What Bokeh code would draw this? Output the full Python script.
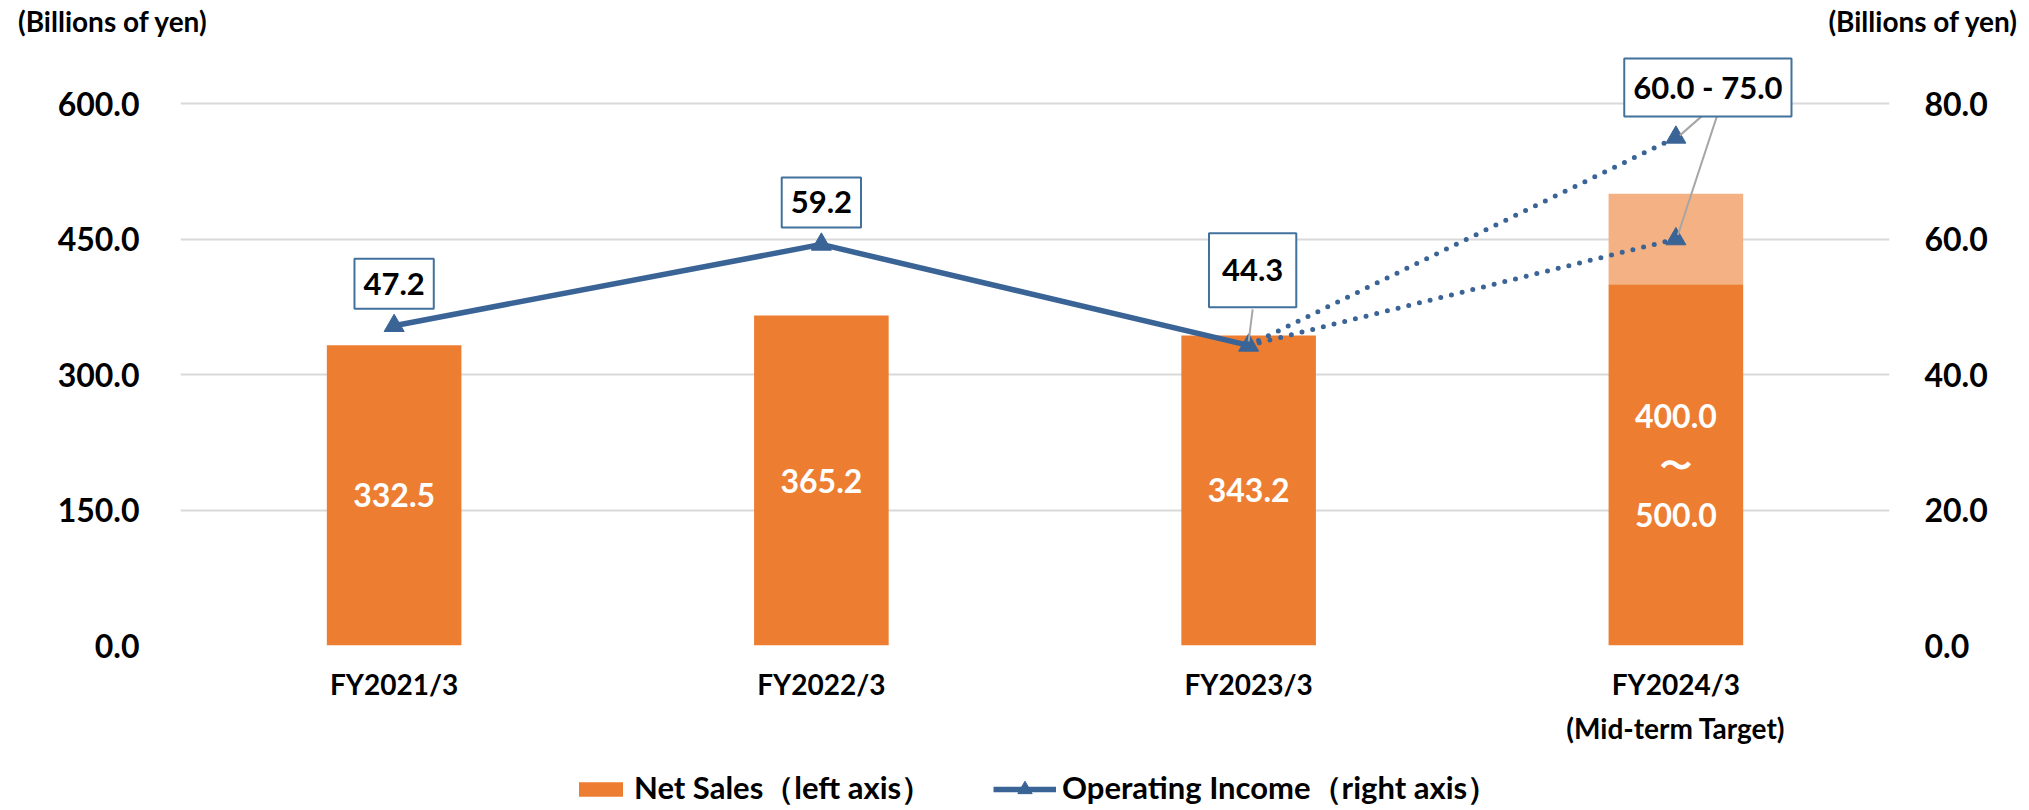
from bokeh.plotting import figure
from bokeh.layouts import column
from bokeh.models import (FactorRange, Range1d, LinearAxis, FixedTicker, NumeralTickFormatter,
                          Label, Legend, LegendItem, ColumnDataSource, Div)
from bokeh.core.properties import value
from bokeh.embed import file_html
from bokeh.resources import INLINE

# ---------------- data ----------------
categories = ["FY2021/3", "FY2022/3", "FY2023/3", "FY2024/3\n(Mid-term Target)"]
net_sales = [332.5, 365.2, 343.2, 400.0]
net_sales_target_low = 400.0
net_sales_target_high = 500.0
bar_labels = ["332.5", "365.2", "343.2", "400.0\n〜\n500.0"]
op_categories = categories[:3]
op_income = [47.2, 59.2, 44.3]
op_target_category = categories[3]
op_target = [60.0, 75.0]
op_labels = ["47.2", "59.2", "44.3"]
op_target_label = "60.0 - 75.0"
left_ticks = [0, 150, 300, 450, 600]
right_ticks = [0, 20, 40, 60, 80]
unit_text = "(Billions of yen)"
legend_labels = ["Net Sales（left axis）", "Operating Income（right axis）"]

# ---------------- style ----------------
ORANGE = "#ED7D31"
LIGHT_ORANGE = "#F4B183"
BLUE = "#3A6496"
BOX_BLUE = "#41719C"
GRID = "#D9D9D9"
LEADER = "#A6A6A6"
FONT = "Lato"

W = 2029
DH = 32                     # header height
H = 725                     # main figure height
LH = 45                     # legend strip height
LEFT, RIGHT, TOP, BOTTOM = 180, 140, 0, 122
frame_h = H - TOP - BOTTOM
Y_END = 600 * frame_h / 542.0
Y2_END = Y_END * 80 / 600
px_per_r = frame_h / Y2_END  # pixels per right-axis unit

header = Div(text=(f'<div style="display:flex;justify-content:space-between;width:{W}px;'
                   f'box-sizing:border-box;padding:0 17px 0 13px;font-family:Lato;'
                   f'font-weight:bold;font-size:28px;color:black;line-height:32px;">'
                   f'<span>{unit_text}</span><span>{unit_text}</span></div>'),
             width=W, height=DH)

p = figure(x_range=FactorRange(*categories, range_padding=0), y_range=Range1d(0, Y_END),
           width=W, height=H, output_backend="svg", toolbar_location=None,
           min_border_left=LEFT, min_border_right=RIGHT, min_border_top=TOP,
           min_border_bottom=BOTTOM)
p.extra_y_ranges = {"right": Range1d(0, Y2_END)}
p.outline_line_color = None
p.background_fill_color = "white"
p.xgrid.grid_line_color = None
p.ygrid.grid_line_color = GRID
p.ygrid.grid_line_width = 2
p.ygrid.ticker = FixedTicker(ticks=left_ticks)

# axes
ax_y = p.yaxis[0]
ax_y.ticker = FixedTicker(ticks=left_ticks)
ax_y.formatter = NumeralTickFormatter(format="0.0")
ax_y.major_label_standoff = 35
ax_r = LinearAxis(y_range_name="right", ticker=FixedTicker(ticks=right_ticks),
                  formatter=NumeralTickFormatter(format="0.0"))
p.add_layout(ax_r, "right")
ax_r.major_label_standoff = 29
ax_x = p.xaxis[0]
ax_x.major_label_standoff = 15
ax_x.major_label_text_line_height = 1.32
for ax in (ax_y, ax_r, ax_x):
    ax.axis_line_color = None
    ax.major_tick_line_color = None
    ax.minor_tick_line_color = None
    ax.major_label_text_font = FONT
    ax.major_label_text_font_style = "bold"
    ax.major_label_text_color = "black"
ax_y.major_label_text_font_size = "32px"
ax_r.major_label_text_font_size = "32px"
ax_x.major_label_text_font_size = "28px"

# bars
BAR_W = 0.315
p.vbar(x=categories, top=net_sales, width=BAR_W, color=ORANGE, line_color=None)
p.vbar(x=[op_target_category], bottom=[net_sales_target_low], top=[net_sales_target_high],
       width=BAR_W, color=LIGHT_ORANGE, line_color=None)

# bar labels
bsrc = ColumnDataSource(dict(x=categories, y=[v / 2 for v in net_sales], t=bar_labels))
p.text(x="x", y="y", text="t", source=bsrc, text_align="center", text_baseline="middle",
       text_color="white", text_font=value(FONT), text_font_style="bold",
       text_font_size="32px", text_line_height=1.27)

# dotted target lines
n = len(op_target)
p.segment(x0=[op_categories[-1]] * n, y0=[op_income[-1]] * n,
          x1=[op_target_category] * n, y1=op_target, y_range_name="right",
          line_color=BLUE, line_width=5, line_dash="0 11", line_cap="round")

# operating income line
p.line(x=op_categories, y=op_income, y_range_name="right", line_color=BLUE, line_width=5.5)
p.scatter(x=op_categories, y=op_income, y_range_name="right", marker="triangle",
          size=20, color=BLUE)
p.scatter(x=[op_target_category] * n, y=op_target, y_range_name="right", marker="triangle",
          size=20, color=BLUE)

# positions of categories in the factor range's synthetic coordinates
x_idx = {c: i + 0.5 for i, c in enumerate(categories)}
cat_px = (W - LEFT - RIGHT) / len(categories)

# boxed labels for operating income
def box_label(c, y, text, dx, dy, pad):
    lab = Label(x=x_idx[c], y=y, y_range_name="right", x_offset=dx, y_offset=dy, text=text,
                text_align="center", text_baseline="middle", text_font=FONT,
                text_font_style="bold", text_font_size="31px", text_color="black",
                background_fill_color="white", border_line_color=BOX_BLUE,
                border_line_width=2, padding=pad)
    p.add_layout(lab)

std_pad = dict(left=9, right=9, top=14, bottom=14)
box_label(op_categories[0], op_income[0], op_labels[0], 0, 42, std_pad)
box_label(op_categories[1], op_income[1], op_labels[1], 0, 42, std_pad)
box_label(op_categories[2], op_income[2], op_labels[2], 4, 75, dict(left=13, right=13, top=26, bottom=26))
box_label(op_target_category, op_target[1], op_target_label, 32, 50, dict(left=9, right=9, top=10, bottom=10))

# leader lines (converted from pixel offsets around the boxes)
def lx(c, dxpx):
    return x_idx[c] + dxpx / cat_px
lead_x0 = [lx(op_categories[2], 4), lx(op_target_category, 28), lx(op_target_category, 41)]
lead_y0 = [op_income[2] + 36 / px_per_r, op_target[1] + 23 / px_per_r, op_target[1] + 21 / px_per_r]
lead_x1 = [lx(op_categories[2], 0), lx(op_target_category, 4), lx(op_target_category, 2)]
lead_y1 = [op_income[2] + 4 / px_per_r, op_target[1] + 2 / px_per_r, op_target[0] + 4 / px_per_r]
p.segment(x0=lead_x0, y0=lead_y0, x1=lead_x1, y1=lead_y1, y_range_name="right",
          line_color=LEADER, line_width=2)

# legend strip (its own small figure so nothing is clipped); its sample
# renderers sit outside the visible range and only provide the legend glyphs
lf = figure(width=W, height=LH, output_backend="svg", toolbar_location=None,
            x_range=Range1d(0, 1), y_range=Range1d(0, 1),
            x_axis_location=None, y_axis_location=None,
            min_border_left=0, min_border_right=0, min_border_top=0, min_border_bottom=0)
lf.outline_line_color = None
lf.grid.visible = False
r_bar = lf.vbar(x=[-5], top=[-5], width=0.1, color=ORANGE, line_color=None)
r_line = lf.line(x=[-5, -4], y=[-5, -5], line_color=BLUE, line_width=5.5)
r_mark = lf.scatter(x=[-5], y=[-5], marker="triangle", size=20, color=BLUE)
leg_common = dict(orientation="horizontal", label_standoff=6, padding=0, margin=0,
                  border_line_color=None, background_fill_alpha=0,
                  label_text_font=FONT, label_text_font_style="bold",
                  label_text_font_size="31px", label_text_color="black")
leg1 = Legend(items=[LegendItem(label=legend_labels[0], renderers=[r_bar])],
              location=(393, 2), glyph_width=55, glyph_height=18, **leg_common)
leg2 = Legend(items=[LegendItem(label=legend_labels[1], renderers=[r_line, r_mark])],
              location=(813, 2), glyph_width=63, glyph_height=36, **leg_common)
lf.add_layout(leg1, "center")
lf.add_layout(leg2, "center")

layout = column(header, p, lf, spacing=0)
open("out.html", "w").write(file_html(layout, INLINE))
